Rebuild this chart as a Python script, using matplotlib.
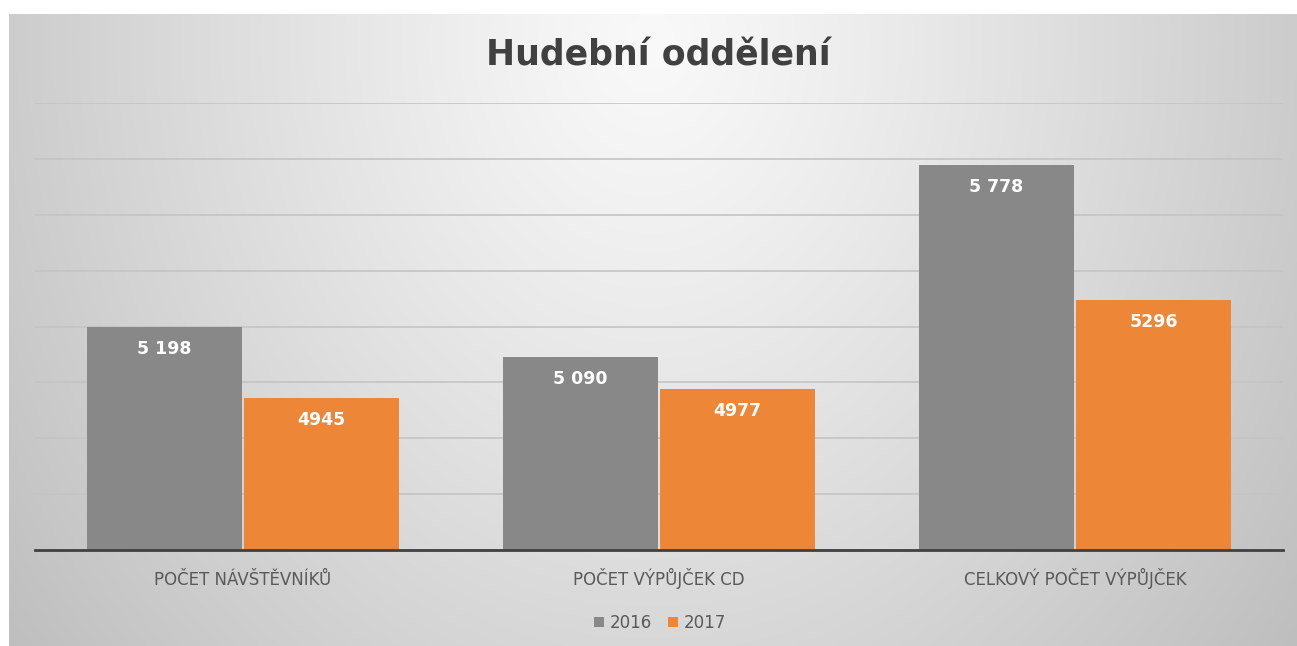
import numpy as np
import matplotlib
matplotlib.use("Agg")
import matplotlib.pyplot as plt

title = "Hudební oddělení"
categories = ["POČET NÁVŠTĚVNÍKŮ", "POČET VÝPŮJČEK CD", "CELKOVÝ POČET VÝPŮJČEK"]
series_names = ["2016", "2017"]
values_2016 = [5198, 5090, 5778]
values_2017 = [4945, 4977, 5296]
labels_2016 = ["5 198", "5 090", "5 778"]
labels_2017 = ["4945", "4977", "5296"]

W, H = 1297, 646
fig = plt.figure(figsize=(W / 100, H / 100), dpi=100)
fig.patch.set_facecolor("white")

# background gradient panel
bg = fig.add_axes([9 / W, 0, 1 - 9 / W, 1 - 14 / H])
bg.set_axis_off()
xs = np.linspace(9, W, 600)
ys = np.linspace(14, H, 300)
X, Y = np.meshgrid(xs, ys)
r = np.sqrt(((X - 650) / 660) ** 2 + ((Y - 40) / 800) ** 2)
g = (249 - 46 * r ** 1.15) / 255.0
g = np.clip(g, 0, 1)
img = np.dstack([g, g, g])
bg.imshow(img, aspect="auto", extent=[0, 1, 0, 1], origin="upper")
bg.set_xlim(0, 1)
bg.set_ylim(0, 1)

ax = fig.add_axes([35 / W, 1 - 550 / H, (1283 - 35) / W, (550 - 103) / H])
ax.patch.set_alpha(0)

x = np.arange(len(categories))
width = 0.373
off = 0.1887
c16 = "#888888"
c17 = "#EE8638"
b1 = ax.bar(x - off, values_2016, width, color=c16, label=series_names[0], zorder=3)
b2 = ax.bar(x + off, values_2017, width, color=c17, label=series_names[1], zorder=3)

ax.set_ylim(4400, 6000)
ax.set_xlim(-0.5, 2.5)
ax.set_yticks(np.arange(4400, 6001, 200))
ax.yaxis.grid(True, color="#c4c4c4", linewidth=1.2, zorder=0)
ax.set_axisbelow(True)
ax.tick_params(axis="y", left=False, labelleft=False)
ax.tick_params(axis="x", bottom=False, pad=22)
ax.set_xticks(x)
ax.set_xticklabels(categories, fontsize=12, color="#595959")
for t in ax.get_xticklabels():
    t.set_verticalalignment("baseline")
for s in ["top", "right", "left"]:
    ax.spines[s].set_visible(False)
ax.spines["bottom"].set_color("#404040")
ax.spines["bottom"].set_linewidth(2)
ax.spines["bottom"].set_zorder(4)

for bars, labs in ((b1, labels_2016), (b2, labels_2017)):
    for rect, lab in zip(bars, labs):
        ax.annotate(lab, (rect.get_x() + rect.get_width() / 2, rect.get_height()),
                    xytext=(0, -16), textcoords="offset points",
                    ha="center", va="center", color="white",
                    fontsize=12.5, fontweight="bold", zorder=5)

fig.text(658 / W, 1 - 55 / H, title, ha="center", va="center",
         fontsize=25, fontweight="bold", color="#404040")

leg = fig.legend(handles=[b1, b2], labels=series_names, loc="center",
                 bbox_to_anchor=(660 / W, 1 - 623 / H), ncol=2, frameon=False,
                 fontsize=12, handlelength=0.6, handleheight=0.6,
                 handletextpad=0.3, columnspacing=1.0, labelcolor="#595959")

fig.savefig("out.png", dpi=100)
